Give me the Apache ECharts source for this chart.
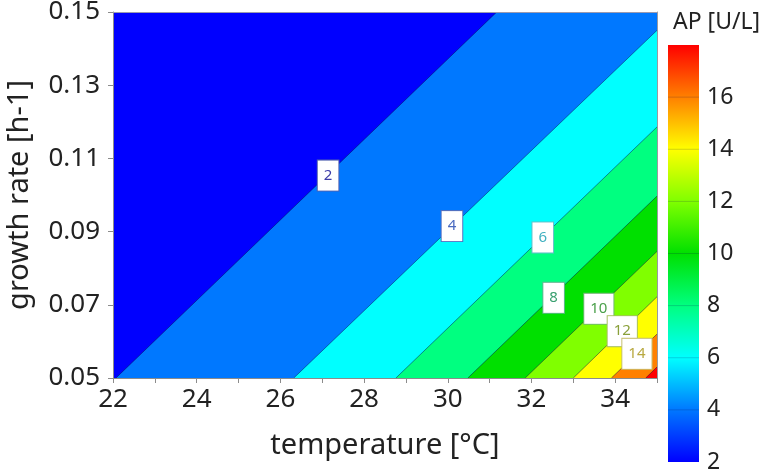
<!DOCTYPE html>
<html>
<head>
<meta charset="utf-8">
<script src="https://cdn.jsdelivr.net/npm/echarts@6/dist/echarts.min.js"></script>
<style>
html,body{margin:0;padding:0;background:#fff;}
#c{width:760px;height:470px;}
</style>
</head>
<body>
<div id="c"></div>
<script>
// ---- data ----
const tempMin = 22, tempMax = 35;          // temperature axis range [°C]
const rateMin = 0.05, rateMax = 0.15;      // growth rate axis range [h-1]
const xTicks = [22,23,24,25,26,27,28,29,30,31,32,33,34,35];
const xTickLabels = [22,24,26,28,30,32,34];
const yTickLabels = [0.05,0.07,0.09,0.11,0.13,0.15];
const colorbarTicks = [2,4,6,8,10,12,14,16];
const colorbarMin = 2, colorbarMax = 18;

// contour lines of AP [U/L]: start and end points (temperature, growth rate)
const contourLevels = [2, 4, 6, 8, 10, 12, 14, 16];
const startTemp = [22.07, 26.32, 28.76, 30.48, 31.85, 33.00, 33.91, 34.73];
const startRate = [0.05, 0.05, 0.05, 0.05, 0.05, 0.05, 0.05, 0.05];
const endTemp   = [31.17, 35, 35, 35, 35, 35, 35, 35];
const endRate   = [0.15, 0.145, 0.1186, 0.0997, 0.0846, 0.0722, 0.062, 0.053];

// contour label positions (temperature, growth rate)
const labelText = ['2','4','6','8','10','12','14'];
const labelTemp = [27.14, 30.10, 32.27, 32.53, 33.61, 34.17, 34.52];
const labelRate = [0.1053, 0.0915, 0.0884, 0.0719, 0.0689, 0.0628, 0.0566];

// ---- styles ----
const bandColors = ['#0000ff','#0078ff','#00ffff','#00ff80','#00e000','#80ff00','#ffff00','#ff8000','#ff0000'];
const barStopValues = [2,4,6,8,10,12,14,16,18];
const labelColors = ['#3a3aa8','#4a6ac0','#40b0c0','#3aa070','#4aa04a','#8aa03a','#b8a840'];
const labelBorders = ['#5060b0','#5070c0','#60c0c8','#60b890','#70b870','#a8c060','#c8c070'];
const FONT = 'Noto Sans';
const TXT = '#222';

const chart = echarts.init(document.getElementById('c'), null, {renderer:'canvas'});

const plotData = [[-1]].concat(contourLevels.map((l,i)=>[i]));

function renderPlot(params, api){
  const i = params.dataIndex - 1;
  if (i < 0) {
    const pts = [[tempMin,rateMin],[tempMax,rateMin],[tempMax,rateMax],[tempMin,rateMax]].map(p=>api.coord(p));
    return {type:'polygon', shape:{points:pts}, style:{fill:bandColors[0]}};
  }
  const pts = [[startTemp[i],startRate[i]],[tempMax,rateMin]];
  if (endTemp[i] < tempMax) pts.push([tempMax,rateMax]);
  pts.push([endTemp[i],endRate[i]]);
  const px = pts.map(p=>api.coord(p));
  return {type:'group', children:[
    {type:'polygon', shape:{points:px}, style:{fill:bandColors[i+1]}},
    {type:'line', shape:{x1:px[0][0],y1:px[0][1],x2:px[px.length-1][0],y2:px[px.length-1][1]},
     style:{stroke:'rgba(0,0,70,0.45)', lineWidth:1}}
  ]};
}

function renderBar(params, api){
  const p0 = api.coord([0, colorbarMax]);
  const p1 = api.coord([1, colorbarMin]);
  const stops = barStopValues.map((v,k)=>({offset:(colorbarMax - v)/(colorbarMax-colorbarMin), color:bandColors[k]}));
  stops.reverse();
  const children = [{type:'rect', shape:{x:p0[0], y:p0[1], width:p1[0]-p0[0], height:p1[1]-p0[1]},
    style:{fill:new echarts.graphic.LinearGradient(0,0,0,1,stops)}}];
  colorbarTicks.slice(1).forEach(v=>{
    const y = api.coord([0,v])[1];
    children.push({type:'line', shape:{x1:p0[0], y1:y, x2:p1[0], y2:y}, style:{stroke:'rgba(0,0,80,0.18)', lineWidth:1}});
  });
  return {type:'group', children};
}

const option = {
  animation:false,
  title:{text:'AP [U/L]', left:668, top:6, textStyle:{fontFamily:FONT, fontSize:23, fontWeight:'normal', color:TXT}},
  grid:[
    {left:113, top:12, width:544, height:366, outerBoundsMode:'none'},
    {left:668, top:45, width:31, height:417, outerBoundsMode:'none'}
  ],
  xAxis:[
    {gridIndex:0, type:'value', min:tempMin, max:tempMax, z:5,
     name:'temperature [°C]', nameLocation:'middle', nameGap:53,
     nameTextStyle:{fontFamily:FONT, fontSize:29, color:TXT},
     axisLine:{lineStyle:{color:'#8c8c8c', width:1}},
     axisTick:{show:true, length:5, customValues:xTicks, lineStyle:{color:'#8c8c8c'}},
     axisLabel:{customValues:xTickLabels, fontFamily:FONT, fontSize:26, color:TXT, margin:9},
     splitLine:{show:false}},
    {gridIndex:0, type:'value', position:'top', min:tempMin, max:tempMax, z:5,
     axisLine:{lineStyle:{color:'#9a9ab0'}}, axisTick:{show:false}, axisLabel:{show:false}, splitLine:{show:false}},
    {gridIndex:1, type:'value', min:0, max:1, show:false}
  ],
  yAxis:[
    {gridIndex:0, type:'value', min:rateMin, max:rateMax, z:5,
     name:'growth rate [h-1]', nameLocation:'middle', nameGap:79,
     nameTextStyle:{fontFamily:FONT, fontSize:29, color:TXT},
     axisLine:{show:true, lineStyle:{color:'#8c8c8c', width:1}},
     axisTick:{show:true, length:5, customValues:yTickLabels, lineStyle:{color:'#8c8c8c'}},
     axisLabel:{customValues:yTickLabels, fontFamily:FONT, fontSize:26, color:TXT, margin:13,
       formatter:v=>v.toFixed(2)},
     splitLine:{show:false}},
    {gridIndex:0, type:'value', position:'right', min:rateMin, max:rateMax, z:5,
     axisLine:{show:true, lineStyle:{color:'#9a9aa0'}}, axisTick:{show:false}, axisLabel:{show:false}, splitLine:{show:false}},
    {gridIndex:1, type:'value', position:'right', min:colorbarMin, max:colorbarMax,
     axisLine:{show:false}, axisTick:{show:false}, splitLine:{show:false},
     axisLabel:{customValues:colorbarTicks, fontFamily:FONT, fontSize:23, color:TXT, margin:8}}
  ],
  series:[
    {type:'custom', xAxisIndex:0, yAxisIndex:0, data:plotData, renderItem:renderPlot, clip:true, silent:true},
    {type:'scatter', xAxisIndex:0, yAxisIndex:0, symbolSize:0, silent:true, z:10,
     itemStyle:{opacity:1},
     data:labelText.map((t,i)=>({value:[labelTemp[i], labelRate[i]],
       label:{color:labelColors[i], borderColor:labelBorders[i]}})),
     label:{show:true, position:'inside', formatter:p=>labelText[p.dataIndex], opacity:1,
       fontFamily:FONT, fontSize:15, backgroundColor:'#ffffff', borderWidth:1,
       padding:[8,6,7,6]}},
    {type:'custom', xAxisIndex:2, yAxisIndex:2, data:[[0]], renderItem:renderBar, silent:true}
  ]
};
chart.setOption(option);
</script>
</body>
</html>
